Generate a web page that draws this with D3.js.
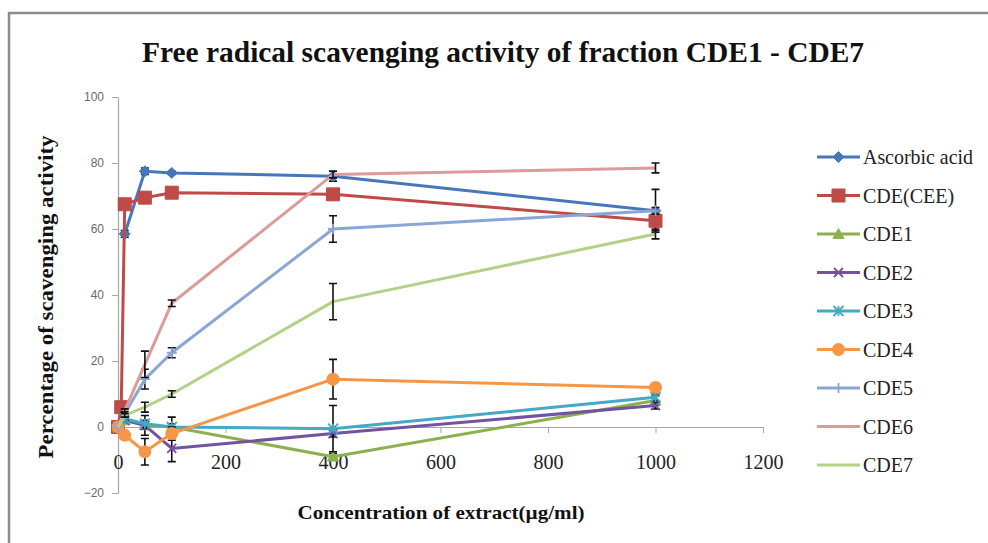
<!DOCTYPE html>
<html><head><meta charset="utf-8">
<script src="https://cdn.jsdelivr.net/npm/d3@7"></script>
<style>body{margin:0;background:#fff}svg{display:block}</style>
</head><body><svg id="c" width="988" height="543"></svg>
<script>
// ---- data ----
const seriesNames = ["Ascorbic acid","CDE(CEE)","CDE1","CDE2","CDE3","CDE4","CDE5","CDE6","CDE7"];
const concentrations = [0, 12.5, 50, 100, 400, 1000];
const xAscorbic = [12.5, 50, 100, 400, 1000];
const ascorbicAcid = [58.5, 77.5, 77, 76, 65.5];
const errAscorbic = [1, 1, 0.5, 1.5, 6.5];
const xCDE = [0, 6, 12.5, 50, 100, 400, 1000];
const cdeCEE = [0, 6, 67.5, 69.5, 71, 70.5, 62.5];
const errCDE = [0, 1, 1, 0.5, 0.5, 1, 3];
const cde1 = [0, 2, 0.5, 0, -9, 8];
const errCde1 = [0, 0.5, 3, 3, 1, 1.5];
const cde2 = [0, 2, 0.5, -6.5, -2, 6.5];
const errCde2 = [0, 0.5, 1, 4, 1, 1];
const cde3 = [0, 2.5, 1, 0, -0.5, 9];
const errCde3 = [0, 0.5, 1, 1, 7, 1];
const cde4 = [0, -2.5, -7.5, -2, 14.5, 12];
const errCde4 = [0, 0.5, 4, 2, 6, 1];
const cde5 = [0, 4, 14.5, 22.5, 60, 65.5];
const errCde5 = [0, 0.5, 3, 1.5, 4, 1];
const cde6 = [0, 5, 19, 37.5, 76.5, 78.5];
const errCde6 = [0, 0.5, 4, 1, 1, 1.5];
const cde7 = [0, 3.5, 6, 10, 38, 58.5];
const errCde7 = [0, 0.5, 1.5, 1, 5.5, 1.5];
const yTicks = [-20, 0, 20, 40, 60, 80, 100];
const xTicks = [0, 200, 400, 600, 800, 1000, 1200];

const titleText = "Free radical scavenging activity of fraction CDE1 - CDE7";
const yTitle = "Percentage  of scavenging activity";
const xTitle = "Concentration of extract(\u00b5g/ml)";

// ---- styling ----
const colors = ["#4777BA","#BE4B48","#8DB04F","#7352A0","#45A8C4","#F79646","#8AA6D6","#DC9A99","#B3D186"];
const markers = ["diamond","square","triangle","x","asterisk","circle","plus","none","none"];
const xsList = [xAscorbic, xCDE, concentrations, concentrations, concentrations, concentrations, concentrations, concentrations, concentrations];
const ysList = [ascorbicAcid, cdeCEE, cde1, cde2, cde3, cde4, cde5, cde6, cde7];
const errList = [errAscorbic, errCDE, errCde1, errCde2, errCde3, errCde4, errCde5, errCde6, errCde7];
const SERIF = "'Liberation Serif', 'Times New Roman', serif";

const svg = d3.select("#c");
const x = d3.scaleLinear().domain([0, 1200]).range([118, 763]);
const y = d3.scaleLinear().domain([-20, 100]).range([493, 97]);

// border
svg.append("path").attr("d","M9,543 V13 H988").attr("fill","none").attr("stroke","#8c8c8c").attr("stroke-width",2.5);

function fitText(sel, w){ sel.attr("textLength", w).attr("lengthAdjust","spacingAndGlyphs"); }

// title
svg.append("text").attr("x",503).attr("y",62).attr("text-anchor","middle")
  .attr("font-family",SERIF).attr("font-weight","bold")
  .attr("font-size",29).attr("fill","#111").text(titleText).call(fitText, 722);

// y axis
const yAxis = svg.append("g").attr("transform",`translate(${x(0)},0)`)
  .call(d3.axisLeft(y).tickValues(yTicks).tickSize(6).tickPadding(8).tickSizeOuter(0));
yAxis.select(".domain").attr("stroke","#a6a6a6").attr("stroke-width",1.2);
yAxis.selectAll(".tick line").attr("stroke","#a6a6a6");
yAxis.selectAll(".tick text").attr("font-family","'Liberation Sans', Arial, sans-serif").attr("font-size",12).attr("fill","#6a6a6a");

// x axis at y=0
const xAxis = svg.append("g").attr("transform",`translate(0,${y(0)})`)
  .call(d3.axisBottom(x).tickValues(xTicks).tickFormat(d3.format("d")).tickSize(6).tickPadding(22).tickSizeOuter(0));
xAxis.select(".domain").attr("stroke","#a6a6a6").attr("stroke-width",1.2);
xAxis.selectAll(".tick line").attr("stroke","#a6a6a6");
xAxis.selectAll(".tick text").attr("font-family",SERIF).attr("font-size",20).attr("fill","#222");

// axis titles
svg.append("text").attr("transform","translate(53,297) rotate(-90)").attr("text-anchor","middle")
  .attr("font-family",SERIF).attr("font-weight","bold")
  .attr("font-size",20).attr("fill","#111").text(yTitle).call(fitText, 323);
svg.append("text").attr("x",441).attr("y",519).attr("text-anchor","middle")
  .attr("font-family",SERIF).attr("font-weight","bold")
  .attr("font-size",19).attr("fill","#111").text(xTitle).call(fitText, 287);

// markers
function markerPath(type, s){
  const h = s/2;
  switch(type){
    case "diamond": return `M0,${-h}L${h},0L0,${h}L${-h},0Z`;
    case "square": return `M${-h},${-h}H${h}V${h}H${-h}Z`;
    case "triangle": return `M0,${-h}L${h},${h*0.8}L${-h},${h*0.8}Z`;
    case "x": return `M${-h},${-h}L${h},${h}M${-h},${h}L${h},${-h}`;
    case "asterisk": return `M${-h},${-h}L${h},${h}M${-h},${h}L${h},${-h}M0,${-h}V${h}`;
    case "plus": return `M0,${-h}V${h}M${-h},0H${h}`;
    default: return "";
  }
}
const markerSize = {diamond:11, square:13, triangle:11, x:9, asterisk:10, plus:10, circle:13};
function drawMarker(g, type, color, cx, cy){
  if(type==="none") return;
  if(type==="circle"){
    g.append("circle").attr("cx",cx).attr("cy",cy).attr("r",markerSize.circle/2).attr("fill",color);
    return;
  }
  const filled = ["diamond","square","triangle"].includes(type);
  g.append("path").attr("transform",`translate(${cx},${cy})`).attr("d",markerPath(type, markerSize[type]))
    .attr("fill", filled ? color : "none").attr("stroke", color).attr("stroke-width", filled ? 1 : 1.8);
}

const line = d3.line().x(d=>x(d[0])).y(d=>y(d[1]));
const plot = svg.append("g");
seriesNames.forEach((name,i)=>{
  const pts = xsList[i].map((xv,j)=>[xv, ysList[i][j], errList[i][j]]);
  const g = plot.append("g");
  g.append("path").attr("d", line(pts)).attr("fill","none").attr("stroke",colors[i])
    .attr("stroke-width",3).attr("stroke-linejoin","round");
  pts.forEach(p=>{
    if(p[2]>0){
      const cx = x(p[0]), y1 = y(p[1]+p[2]), y2 = y(p[1]-p[2]);
      g.append("path").attr("d",`M${cx},${y1}V${y2}M${cx-4},${y1}H${cx+4}M${cx-4},${y2}H${cx+4}`)
        .attr("stroke","#111").attr("stroke-width",1.6).attr("fill","none");
    }
  });
  pts.forEach(p=> drawMarker(g, markers[i], colors[i], x(p[0]), y(p[1])));
});

// legend
const lg = svg.append("g");
seriesNames.forEach((name,i)=>{
  const yy = 157 + i*38.5;
  lg.append("line").attr("x1",817).attr("x2",860).attr("y1",yy).attr("y2",yy).attr("stroke",colors[i]).attr("stroke-width",3);
  drawMarker(lg, markers[i], colors[i], 838.5, yy);
  const t = lg.append("text").attr("x",863).attr("y",yy+7)
    .attr("font-family",SERIF).attr("font-size",20).attr("fill","#222").text(name);
  const w = t.node().getComputedTextLength();
  t.attr("font-size",21).call(fitText, Math.min(w, 110));
});
</script></body></html>
